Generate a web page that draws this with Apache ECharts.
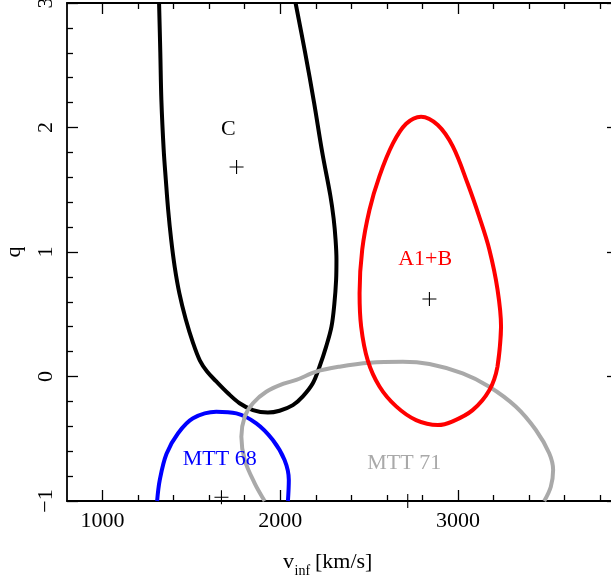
<!DOCTYPE html>
<html>
<head>
<meta charset="utf-8">
<script src="https://cdn.jsdelivr.net/npm/echarts@6/dist/echarts.min.js"></script>
<style>
  html, body { margin: 0; padding: 0; background: #ffffff; }
  #chart { width: 611px; height: 581px; }
</style>
</head>
<body>
<div id="chart"></div>
<script>
// Confidence contours in the (v_inf, q) plane, one [v_inf, q] list per region
const contourC = [
  [1318, 3.00], [1325, 2.60], [1331, 2.22], [1344, 1.82], [1356, 1.58],
  [1369, 1.34], [1386, 1.10], [1406, 0.88], [1432, 0.67], [1468, 0.46],
  [1509, 0.27], [1547, 0.13], [1588, 0.04], [1640, -0.04], [1706, -0.135],
  [1771, -0.215], [1846, -0.27], [1930, -0.29], [1996, -0.275], [2071, -0.23],
  [2127, -0.16], [2183, -0.055], [2221, 0.08], [2258, 0.24], [2288, 0.40],
  [2304, 0.58], [2314, 0.775], [2316, 0.94], [2311, 1.10], [2300, 1.27],
  [2282, 1.45], [2236, 1.80], [2190, 2.20], [2140, 2.60], [2086, 3.00]
];
const contourA1B = [
  [3242, 0.40], [3222, 0.08], [3176, -0.11], [3082, -0.27], [2970, -0.36],
  [2886, -0.39], [2764, -0.35], [2652, -0.24], [2558, -0.08], [2492, 0.13],
  [2455, 0.40], [2446, 0.67], [2461, 1.02], [2502, 1.34], [2558, 1.61],
  [2633, 1.87], [2708, 2.03], [2792, 2.087], [2886, 2.02], [2970, 1.85],
  [3054, 1.55], [3120, 1.28], [3176, 1.02], [3222, 0.70], [3242, 0.40],
  [3222, 0.08]
];
const contourMTT68 = [
  [1307, -1.00], [1322, -0.83], [1360, -0.62], [1425, -0.456], [1509, -0.336],
  [1640, -0.283], [1753, -0.296], [1865, -0.376], [1958, -0.51], [2024, -0.671],
  [2048, -0.831], [2043, -1.00]
];
const contourMTT71 = [
  [1912, -1.00], [1856, -0.858], [1800, -0.671], [1781, -0.483], [1800, -0.323],
  [1846, -0.215], [1921, -0.122], [2024, -0.055], [2090, -0.028], [2202, 0.039],
  [2333, 0.079], [2502, 0.111], [2689, 0.119], [2839, 0.10], [3026, 0.025],
  [3176, -0.082], [3326, -0.243], [3438, -0.43], [3513, -0.617], [3535, -0.751],
  [3522, -0.885], [3485, -1.00]
];

// Best-fit positions
const bestFitX = [1754, 2839, 1669, 2717];
const bestFitY = [1.683, 0.622, -0.97, -1.0];

// Region names
const labelNames = ['C', 'A1+B', 'MTT 68', 'MTT 71'];
const labelX = [1708, 2815, 1659, 2697];
const labelY = [1.99, 0.94, -0.667, -0.697];
const labelColors = ['#000000', '#ff0000', '#0000ff', '#a9a9a9'];

// Axis ranges and tick spacing
const xMin = 800, xMax = 3900, xMajorStart = 1000, xMajorStep = 1000;
const yMin = -1, yMax = 3, yMajorStep = 1;

const FONT = '"Liberation Serif", "DejaVu Serif", serif';
const plotLeft = 67, plotTop = 3, plotWidth = 551, plotHeight = 498;
// second grid shares the same scale but starts at the first labelled thousand
const pxPerUnit = plotWidth / (xMax - xMin);
const tickGridLeft = plotLeft + (xMajorStart - xMin) * pxPerUnit;
const tickGridWidth = (xMax - xMajorStart) * pxPerUnit;

const frameLine = { color: '#000', width: 1.8 };
const tickLine = { color: '#000', width: 1.3 };

function minusSign(v) {
  return v < 0 ? '\u2212' + Math.abs(v) : String(v);
}

function contourSeries(name, data, color) {
  return {
    name: name,
    type: 'line',
    xAxisIndex: 0,
    yAxisIndex: 0,
    data: data,
    showSymbol: false,
    symbol: 'none',
    smooth: 0.35,
    lineStyle: { color: color, width: 4 },
    clip: true,
    animation: false
  };
}

function axisTitlePart(text, left, top, size) {
  return {
    text: text, left: left, top: top, padding: 0,
    textStyle: { fontFamily: FONT, fontSize: size, fontWeight: 'normal', color: '#000' }
  };
}

const chart = echarts.init(document.getElementById('chart'), null, { renderer: 'canvas' });

chart.setOption({
  animation: false,
  backgroundColor: '#ffffff',
  title: [
    axisTitlePart('v', 283, 551, 22),
    axisTitlePart('inf', 294.5, 564, 14),
    axisTitlePart('[km/s]', 315, 551, 22)
  ],
  grid: [
    { left: plotLeft, top: plotTop, width: plotWidth, height: plotHeight, containLabel: false, outerBoundsMode: 'none' },
    { left: tickGridLeft, top: plotTop, width: tickGridWidth, height: plotHeight, containLabel: false, outerBoundsMode: 'none' }
  ],
  xAxis: [
    {
      gridIndex: 0, type: 'value', min: xMin, max: xMax, position: 'bottom',
      axisLine: { show: true, onZero: false, lineStyle: frameLine },
      axisTick: { show: false }, axisLabel: { show: false }, splitLine: { show: false }
    },
    {
      gridIndex: 0, type: 'value', min: xMin, max: xMax, position: 'top',
      axisLine: { show: true, onZero: false, lineStyle: frameLine },
      axisTick: { show: false }, axisLabel: { show: false }, splitLine: { show: false }
    },
    {
      gridIndex: 1, type: 'value', min: xMajorStart, max: xMax, interval: xMajorStep, position: 'bottom',
      axisLine: { show: false, onZero: false },
      axisTick: { show: true, inside: true, length: 11, lineStyle: tickLine },
      minorTick: { show: true, splitNumber: 5, length: 6, lineStyle: tickLine },
      axisLabel: {
        show: true, margin: 9, fontSize: 22, fontFamily: FONT, color: '#000',
        showMaxLabel: false,
        formatter: function (v) { return v % xMajorStep === 0 ? String(v) : ''; }
      },
      splitLine: { show: false }
    },
    {
      gridIndex: 1, type: 'value', min: xMajorStart, max: xMax, interval: xMajorStep, position: 'top',
      axisLine: { show: false, onZero: false },
      axisTick: { show: true, inside: true, length: 11, lineStyle: tickLine },
      minorTick: { show: true, splitNumber: 5, length: 6, lineStyle: tickLine },
      axisLabel: { show: false }, splitLine: { show: false }
    }
  ],
  yAxis: [
    {
      gridIndex: 0, type: 'value', min: yMin, max: yMax, interval: yMajorStep, position: 'left',
      axisLine: { show: true, onZero: false, lineStyle: frameLine },
      axisTick: { show: true, inside: true, length: 11, lineStyle: tickLine },
      minorTick: { show: true, splitNumber: 5, length: 6, lineStyle: tickLine },
      axisLabel: {
        show: true, rotate: 90, margin: 10, fontSize: 22, fontFamily: FONT, color: '#000',
        formatter: minusSign
      },
      splitLine: { show: false },
      name: 'q', nameLocation: 'middle', nameGap: 42, nameRotate: 90,
      nameTextStyle: { fontFamily: FONT, fontSize: 22, color: '#000' }
    },
    {
      gridIndex: 0, type: 'value', min: yMin, max: yMax, interval: yMajorStep, position: 'right',
      axisLine: { show: true, onZero: false, lineStyle: frameLine },
      axisTick: { show: true, inside: true, length: 11, lineStyle: tickLine },
      minorTick: { show: true, splitNumber: 5, length: 6, lineStyle: tickLine },
      axisLabel: { show: false }, splitLine: { show: false }
    },
    {
      gridIndex: 1, type: 'value', min: yMin, max: yMax, show: false
    }
  ],
  series: [
    contourSeries('C', contourC, '#000000'),
    contourSeries('MTT 68', contourMTT68, '#0000ff'),
    contourSeries('MTT 71', contourMTT71, '#a9a9a9'),
    contourSeries('A1+B', contourA1B, '#ff0000'),
    {
      name: 'best fit',
      type: 'scatter',
      xAxisIndex: 0, yAxisIndex: 0,
      data: bestFitX.map(function (x, i) { return [x, bestFitY[i]]; }),
      symbol: 'path://M0,7H14M7,0V14',
      symbolSize: 14,
      itemStyle: { color: 'rgba(0,0,0,0)', borderColor: '#000', borderWidth: 1.1, opacity: 1 },
      clip: false,
      z: 5
    },
    {
      name: 'region names',
      type: 'scatter',
      xAxisIndex: 0, yAxisIndex: 0,
      symbolSize: 1,
      itemStyle: { color: 'rgba(0,0,0,0)', opacity: 1 },
      data: labelNames.map(function (n, i) {
        return {
          value: [labelX[i], labelY[i]],
          label: {
            show: true, position: 'inside', formatter: n,
            fontFamily: FONT, fontSize: 22, color: labelColors[i],
            textBorderWidth: 0, opacity: 1
          }
        };
      }),
      z: 6
    }
  ]
});
</script>
</body>
</html>
